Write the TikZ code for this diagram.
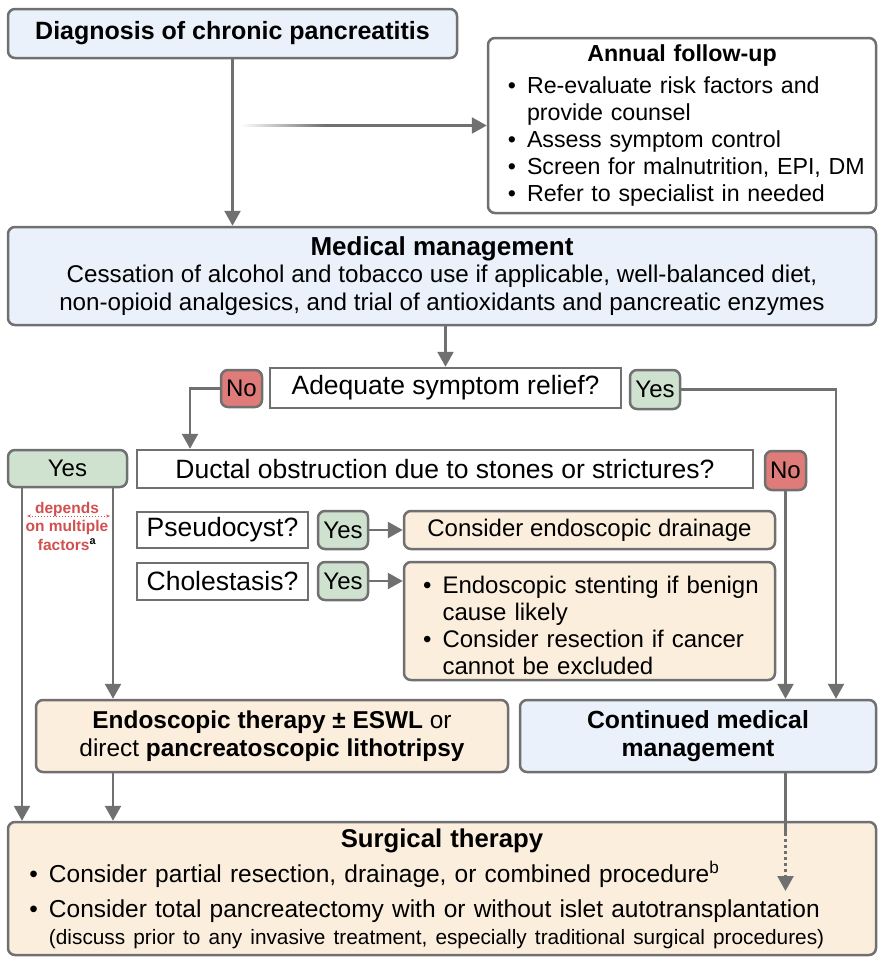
\documentclass[tikz,border=0pt]{standalone}
\usepackage{fontspec}
\setmainfont{Liberation Sans}
\usepackage{enumitem}
\usetikzlibrary{positioning, arrows.meta}
\setlist[itemize]{label=\textbullet, leftmargin=20pt, labelsep=11pt, itemsep=0pt, parsep=0pt, topsep=0pt, partopsep=0pt}
\definecolor{linegray}{HTML}{707070}
\definecolor{boxblue}{HTML}{EAF1FB}
\definecolor{boxbeige}{HTML}{FCEEDD}
\definecolor{yesgreen}{HTML}{CFE2D0}
\definecolor{nored}{HTML}{DF7B79}
\definecolor{deptext}{HTML}{D0504F}
\tikzset{
box/.style={draw=linegray, line width=2.5pt, rounded corners=7pt, inner sep=0pt, align=center, font=\fontsize{24}{27}\selectfont}, % rounded boxes
bluebox/.style={box, fill=boxblue},
beigebox/.style={box, fill=boxbeige},
whitebox/.style={box, fill=white},
question/.style={draw=linegray, line width=2.5pt, fill=white, inner sep=0pt, font=\fontsize{26.5}{30}\selectfont}, % square question boxes
yesbox/.style={box, fill=yesgreen},
nobox/.style={box, fill=nored},
arr/.style={draw=linegray, line width=2.5pt, -{Triangle[width=16pt,length=15pt]}},
line/.style={draw=linegray, line width=2.5pt},
}

\begin{document}
\begin{tikzpicture}[x=1pt, y=-1pt]
    \useasboundingbox (0,0) rectangle (884,959);
    \node[bluebox, minimum width=449pt, minimum height=49pt, font=\bfseries\fontsize{25}{28}\selectfont] at (232.5,33.5) (diag) {Diagnosis of chronic pancreatitis};
    \node[whitebox, minimum width=388pt, minimum height=175pt, text width=378pt, align=left, font=\fontsize{23.2}{27}\selectfont] at (682,125.5) (annual) {\makebox[\linewidth]{\bfseries Annual follow-up}\par\vspace{5pt}
      \begin{itemize}[leftmargin=34pt]
      \item Re-evaluate risk factors and\newline provide counsel
      \item Assess symptom control
      \item Screen for malnutrition, EPI, DM
      \item Refer to specialist in needed
      \end{itemize}};
    \node[bluebox, minimum width=868pt, minimum height=98pt, font=\fontsize{24.2}{27.5}\selectfont] at (442,276) (med) {{\bfseries\fontsize{26}{28}\selectfont Medical management}\\Cessation of alcohol and tobacco use if applicable, well-balanced diet,\\non-opioid analgesics, and trial of antioxidants and pancreatic enzymes};
    \node[question, minimum width=351pt, minimum height=40pt] at (445.5,388) (adeq) {Adequate symptom relief?};
    \node[nobox, minimum width=41pt, minimum height=37pt] at (241.5,388.5) (no1) {No};
    \node[yesbox, minimum width=50pt, minimum height=39pt] at (655,389.5) (yes1) {Yes};
    \node[yesbox, minimum width=119pt, minimum height=37pt] at (67.5,468.5) (yes2) {Yes};
    \node[question, minimum width=616pt, minimum height=38pt] at (445,469) (duct) {Ductal obstruction due to stones or strictures?};
    \node[nobox, minimum width=41pt, minimum height=39pt] at (785.5,470.5) (no2) {No};
    \node[question, minimum width=171pt, minimum height=36pt] at (222.5,530) (pseudo) {Pseudocyst?};
    \node[yesbox, minimum width=50pt, minimum height=38pt] at (343,530) (yes3) {Yes};
    \node[beigebox, minimum width=371pt, minimum height=38pt] at (589.5,530) (drain) {Consider endoscopic drainage};
    \node[question, minimum width=171pt, minimum height=37pt] at (222.5,581.5) (chole) {Cholestasis?};
    \node[yesbox, minimum width=50pt, minimum height=38pt] at (343,581) (yes4) {Yes};
    \node[beigebox, minimum width=371pt, minimum height=118pt, text width=352pt, align=left] at (589.5,621) (stent) {\begin{itemize}[leftmargin=29pt]
      \item Endoscopic stenting if benign\newline cause likely
      \item Consider resection if cancer\newline cannot be excluded
      \end{itemize}};
    \node[beigebox, minimum width=472pt, minimum height=72pt, font=\fontsize{24.4}{28}\selectfont] at (272,736) (endo) {\textbf{Endoscopic therapy ± ESWL} or\\direct \textbf{pancreatoscopic lithotripsy}};
    \node[bluebox, minimum width=356pt, minimum height=72pt, font=\bfseries\fontsize{24.8}{28}\selectfont] at (698,736) (cont) {Continued medical\\management};
    \node[beigebox, minimum width=868pt, minimum height=133pt, text width=826pt, align=left, font=\fontsize{24.5}{27}\selectfont] at (442,888.5) (surg) {\makebox[\linewidth]{\bfseries\fontsize{25.7}{28}\selectfont Surgical therapy}\par\vspace{8pt}
      \begin{itemize}[itemsep=8pt]
      \item Consider partial resection, drainage, or combined procedure\textsuperscript{b}
      \item Consider total pancreatectomy with or without islet autotransplantation\newline{\fontsize{20.8}{23}\selectfont (discuss prior to any invasive treatment, especially traditional surgical procedures)}
      \end{itemize}};
    \node[inner sep=0pt, align=center, text=deptext, font=\bfseries\fontsize{15.5}{18.5}\selectfont] at (67,526) (dep) {depends\\on multiple\\factors{\color{black}\textsuperscript{a}}};
    % free ends of the connectors
    \coordinate (fadestart) at (240,125.5);
    \coordinate (fadeend) at (325,125.5);
    \coordinate (nobend) at (190,0);
    \coordinate (yesbend) at (836,0);
    \coordinate (yleft) at (22,0);
    \coordinate (yright) at (113,0);
    \coordinate (dotstart) at (785.5,833);
    \coordinate (dotend) at (785.5,891);
    \coordinate (depL) at (27,516);
    \coordinate (depR) at (110,516);
    \shade[left color=white, right color=linegray] ([yshift=-1.25pt]fadestart) rectangle ([yshift=1.25pt]fadeend);
    \draw[arr] (fadeend) -- (fadeend -| annual.west);
    \draw[arr] (diag.south) -- (diag.south |- med.north);
    \draw[arr] (med.south -| adeq.north) -- (adeq.north);
    \draw[arr] (no1.west) -| (duct.north -| nobend);
    \draw[arr] (yes1.east) -| (cont.north -| yesbend);
    \draw[arr] (no2.south) -- (no2.south |- cont.north);
    \draw[arr] (yes3.east) -- (drain.west);
    \draw[arr] (yes4.east) -- (yes4.east -| stent.west);
    \draw[arr] (yes2.south -| yleft) -- (surg.north -| yleft);
    \draw[arr] (yes2.south -| yright) -- (endo.north -| yright);
    \draw[arr] (endo.south -| yright) -- (surg.north -| yright);
    \draw[line] (cont.south -| dotstart) -- (dotstart);
    \draw[arr, dash pattern=on 3pt off 3pt] (dotstart) -- (dotend);
    \draw[deptext, line width=1pt, dotted, {Stealth[length=4pt]}-{Stealth[length=4pt]}] (depL) -- (depR);
\end{tikzpicture}
\end{document}
